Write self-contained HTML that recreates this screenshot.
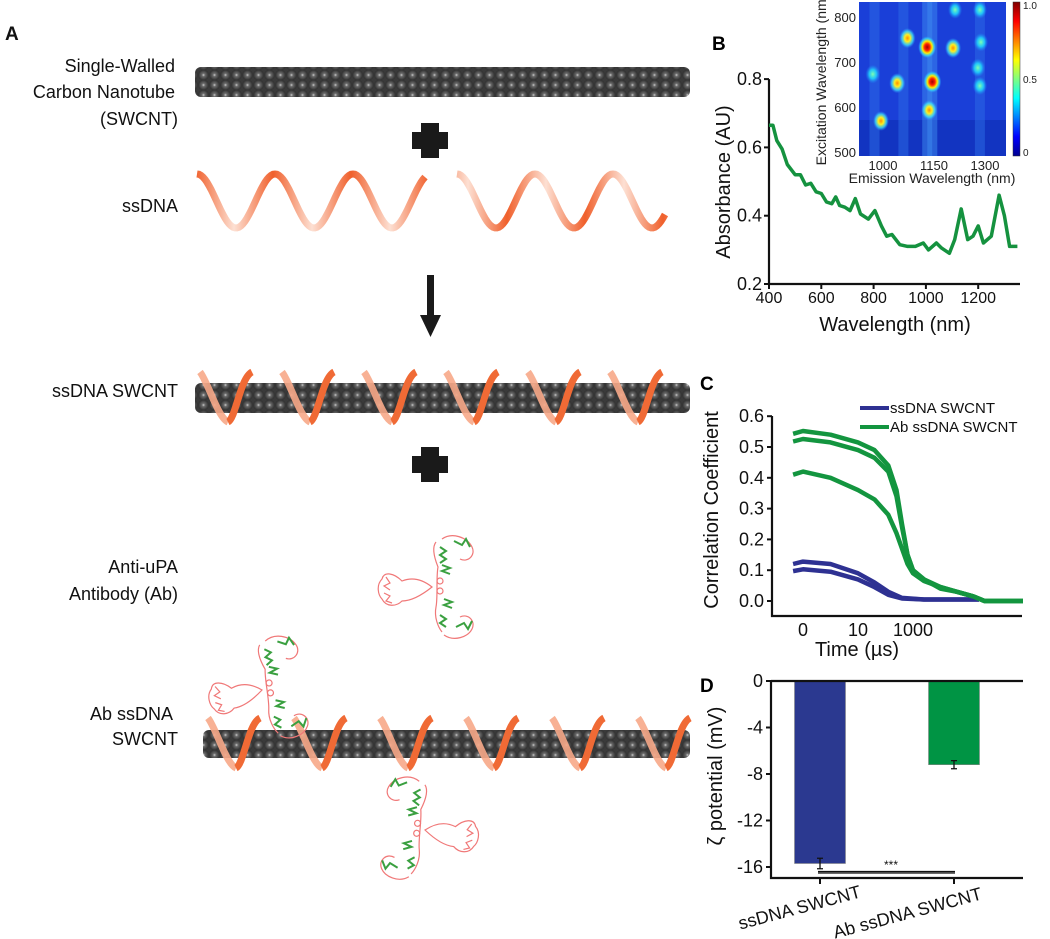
<!DOCTYPE html>
<html><head><meta charset="utf-8"><style>
html,body{margin:0;padding:0;background:#fff;width:1050px;height:939px;overflow:hidden}
svg{display:block;font-family:"Liberation Sans",Arial,sans-serif}
</style></head><body>
<svg id="fig" width="1050" height="939" viewBox="0 0 1050 939">
<defs>
<radialGradient id="atom" cx="50%" cy="50%" r="50%"><stop offset="0" stop-color="#cfcfcf"/><stop offset="0.3" stop-color="#6a6a6a"/><stop offset="1" stop-color="#2e2e2e"/></radialGradient>
<pattern id="tubePat" width="11" height="10" patternUnits="userSpaceOnUse"><rect width="11" height="10" fill="#3a3a3a"/><circle cx="5.5" cy="5" r="5.3" fill="url(#atom)"/></pattern>
<linearGradient id="dnaG" x1="0" x2="39" y1="0" y2="0" spreadMethod="reflect" gradientUnits="userSpaceOnUse"><stop offset="0" stop-color="#fde0d3"/><stop offset="1" stop-color="#f0602c"/></linearGradient>
<linearGradient id="jet" x1="0" x2="0" y1="1" y2="0"><stop offset="0" stop-color="#00008f"/><stop offset="0.125" stop-color="#0000ff"/><stop offset="0.375" stop-color="#00ffff"/><stop offset="0.625" stop-color="#ffff00"/><stop offset="0.875" stop-color="#ff0000"/><stop offset="1" stop-color="#800000"/></linearGradient>
<radialGradient id="spotR"><stop offset="0" stop-color="#a00000"/><stop offset="0.3" stop-color="#ff2000"/><stop offset="0.55" stop-color="#ffee00"/><stop offset="0.8" stop-color="#30e0ff" stop-opacity="0.7"/><stop offset="1" stop-color="#30a0ff" stop-opacity="0"/></radialGradient>
<radialGradient id="spotY"><stop offset="0" stop-color="#ff9000"/><stop offset="0.35" stop-color="#ffee20"/><stop offset="0.7" stop-color="#40f0ff" stop-opacity="0.7"/><stop offset="1" stop-color="#30a0ff" stop-opacity="0"/></radialGradient>
<radialGradient id="spotC"><stop offset="0" stop-color="#80ffb0"/><stop offset="0.5" stop-color="#20e0ff" stop-opacity="0.8"/><stop offset="1" stop-color="#2090ff" stop-opacity="0"/></radialGradient>
<clipPath id="hmClip"><rect x="859" y="2" width="147" height="154"/></clipPath>
<g id="antibody">
  <g fill="none" stroke="#f07878" stroke-width="1.2">
    <path d="M0,0 C-10,-8 -20,-10 -30,-6 C-38,-14 -48,-16 -50,-8 C-56,-2 -54,8 -50,12 C-46,20 -36,20 -30,14 C-20,14 -10,8 0,0Z"/>
    <path d="M-46,-10 l4,6 l-6,3 l6,4 M-48,6 l6,3 l-4,5 l6,2"/>
    <path d="M4,-45 C0,-40 2,-30 6,-20 C4,-10 6,10 4,20 C2,30 6,40 10,45"/>
    <path d="M10,-48 C20,-55 35,-50 40,-40 C44,-32 36,-24 28,-28 M12,48 C22,55 36,50 40,42 C44,34 36,26 28,30"/>
    <circle cx="8" cy="-6" r="3"/><circle cx="8" cy="4" r="3"/>
  </g>
  <g fill="none" stroke="#3aa040" stroke-width="2">
    <path d="M8,-40 l6,4 l-6,4 l6,4 l-6,4 M10,-22 l8,3 l-8,3 l8,3 M12,12 l8,3 l-8,3 l8,3 M8,28 l6,4 l-6,4 l6,4"/>
    <path d="M22,-46 l8,4 l4,-6 l4,8 M24,40 l8,-4 l4,6 l4,-8"/>
  </g>
</g>
</defs>

<g font-size="18" fill="#111">
  <text x="5" y="40" font-weight="bold" font-size="19">A</text>
  <g text-anchor="end">
    <text x="175" y="72">Single-Walled</text>
    <text x="175" y="98">Carbon Nanotube</text>
    <text x="178" y="125">(SWCNT)</text>
    <text x="178" y="212">ssDNA</text>
    <text x="178" y="397">ssDNA SWCNT</text>
    <text x="178" y="573">Anti-uPA</text>
    <text x="178" y="600">Antibody (Ab)</text>
    <text x="173" y="720">Ab ssDNA</text>
    <text x="178" y="745">SWCNT</text>
  </g>
  <rect x="195" y="67" width="495" height="30" rx="6" fill="url(#tubePat)"/>
  <path d="M421,129h18v9h9v17h-9v9h-18v-9h-9v-17h9z" fill="#1a1a1a" transform="translate(0,-6)"/>
  <path id="dna1" d="" fill="none" stroke="url(#dnaG)" stroke-width="7"/>
  <path id="dna2" d="" fill="none" stroke="url(#dnaG)" stroke-width="7"/>
  <path d="M427,275h7v40h7l-10.5,22l-10.5,-22h7z" fill="#1a1a1a"/>
  <g id="tube2grp">
    <rect x="195" y="383" width="495" height="30" rx="6" fill="url(#tubePat)"/>
  </g>
  <path d="M421,447h18v9h9v17h-9v9h-18v-9h-9v-17h9z" fill="#1a1a1a"/>
  <use href="#antibody" x="432" y="587"/>
  <g id="tube3grp">
    <rect x="203" y="730" width="487" height="28" rx="6" fill="url(#tubePat)"/>
  </g>
  <use href="#antibody" transform="translate(262,690) rotate(-8)"/>
  <use href="#antibody" transform="translate(425,830) rotate(185) scale(1,-1)"/>
</g>

<g>
  <text x="712" y="50" font-size="19" font-weight="bold">B</text>
  <g id="bAxes"></g>
  <path id="absLine" fill="none" stroke="#15923f" stroke-width="3.5" stroke-linejoin="round"/>
  <g>
    <g clip-path="url(#hmClip)">
      <rect x="859" y="2" width="147" height="154" fill="#1a3fd8"/>
      <rect x="859" y="120" width="147" height="36" fill="#1030b8" opacity="0.7"/>
      <g id="hmStripes"></g>
      <g id="hmSpots"></g>
    </g>
    <rect x="1013" y="2" width="7" height="154" fill="url(#jet)" stroke="#333" stroke-width="0.5"/>
    <g font-size="10" fill="#222">
      <text x="1023" y="9">1.0</text><text x="1023" y="83">0.5</text><text x="1023" y="156">0</text>
    </g>
    <g id="hmAxes" font-size="13" fill="#222"></g>
  </g>
</g>

<g>
  <text x="700" y="390" font-size="19" font-weight="bold">C</text>
  <g id="cAxes"></g>
  <g id="cLines"></g>
  <g font-size="15" fill="#111">
    <line x1="860" y1="408" x2="889" y2="408" stroke="#2e3192" stroke-width="4"/>
    <text x="890" y="413">ssDNA SWCNT</text>
    <line x1="860" y1="427" x2="889" y2="427" stroke="#13953f" stroke-width="4"/>
    <text x="890" y="432">Ab ssDNA SWCNT</text>
  </g>
</g>

<g>
  <text x="700" y="692" font-size="19" font-weight="bold">D</text>
  <g id="dChart"></g>
</g>
</svg>
<script>
// ---------- Panel B data ----------
const absWavelength=[400,415,430,450,470,500,520,540,560,580,600,620,640,655,670,690,710,730,750,780,805,830,850,870,900,930,960,990,1010,1040,1060,1090,1110,1135,1160,1180,1200,1220,1250,1280,1300,1320,1350];
const absValues=[0.665,0.665,0.62,0.595,0.55,0.52,0.52,0.49,0.495,0.47,0.465,0.44,0.435,0.455,0.43,0.425,0.415,0.45,0.405,0.39,0.415,0.37,0.34,0.345,0.315,0.31,0.31,0.32,0.30,0.32,0.305,0.29,0.33,0.42,0.33,0.34,0.37,0.32,0.34,0.46,0.40,0.31,0.31];
const bXTicks=[400,600,800,1000,1200];
const bYTicks=[0.2,0.4,0.6,0.8];
const bYTickLabels=["0.2","0.4","0.6","0.8"];
const hmEmTicks=[1000,1150,1300];
const hmExTicks=[500,600,700,800];
const hmSpotEm=[1072,1130,1206,970,1042,1145,1136,994,1288,1279,1285,1212,1285];
const hmSpotEx=[753,733,731,673,653,656,593,569,744,687,647,816,816];
const hmSpotLevel=[0.7,1.0,0.7,0.45,0.7,1.0,0.7,0.65,0.4,0.45,0.4,0.35,0.35];
// ---------- Panel C data ----------
const cTickLabels=["0","10","1000"];
const cTickPos=[0,1,2];
const cYTicks=[0,0.1,0.2,0.3,0.4,0.5,0.6];
const cPos=[-0.18,0,0.5,1.0,1.3,1.55,1.7,1.8,1.9,2.0,2.2,2.5,2.8,3.1,3.3,4.0];
const green1=[0.543,0.552,0.54,0.515,0.49,0.44,0.36,0.25,0.15,0.10,0.07,0.045,0.03,0.015,0.0,0.0];
const green2=[0.518,0.526,0.515,0.49,0.465,0.42,0.34,0.24,0.15,0.10,0.07,0.04,0.03,0.015,0.0,0.0];
const green3=[0.41,0.42,0.40,0.36,0.33,0.28,0.22,0.17,0.12,0.09,0.065,0.045,0.03,0.015,0.0,0.0];
const bPos=[-0.18,0,0.5,1.0,1.3,1.55,1.8,2.2,3.2];
const blue1=[0.12,0.128,0.12,0.09,0.06,0.03,0.01,0.005,0.005];
const blue2=[0.097,0.103,0.095,0.07,0.045,0.02,0.008,0.005,0.005];
// ---------- Panel D data ----------
const dCategories=["ssDNA SWCNT","Ab ssDNA SWCNT"];
const dValues=[-15.7,-7.2];
const dErrors=[0.45,0.35];
const dYTicks=[0,-4,-8,-12,-16];

const NS="http://www.w3.org/2000/svg";
function mk(tag,attrs,parent){const e=document.createElementNS(NS,tag);for(const k in attrs)e.setAttribute(k,attrs[k]);parent.appendChild(e);return e;}

(function(){
  function wave(x0,x1,yc,amp,per){let d="";for(let x=x0;x<=x1;x+=2){const y=yc-amp*Math.cos((x-x0)/per*2*Math.PI);d+=(x===x0?"M":"L")+x+","+y.toFixed(1);}return d;}
  document.getElementById('dna1').setAttribute('d',wave(197,425,201,27,78));
  document.getElementById('dna2').setAttribute('d',wave(457,665,201,27,78));
  function helix(grp,x0,x1,yTop,yBot,per){
    for(let x=x0;x<x1;x+=per){
      const p=mk('path',{d:`M${x},${yTop} C${x+8},${yTop+10} ${x+18},${yBot-4} ${x+28},${yBot}`,stroke:"#f7a988","stroke-width":7,fill:"none",opacity:0.9},grp);
      
      
      const q=mk('path',{d:`M${x+28},${yBot} C${x+36},${yBot-4} ${x+40},${yTop+6} ${x+52},${yTop}`,stroke:"#f06a35","stroke-width":7,fill:"none"},grp);
      
      
    }
  }
  helix(document.getElementById('tube2grp'),200,680,372,422,82);
  helix(document.getElementById('tube3grp'),208,680,718,768,86);
})();

(function(){
  const bx=v=>769+(v-400)*52.3/200;
  const by=v=>284-(v-0.2)*68.3/0.2;
  const ax=document.getElementById('bAxes');
  const yAxis=mk('path',{d:`M${bx(400)},${by(0.8)}V${by(0.2)}H1020`,stroke:"#111","stroke-width":2.2,fill:"none"},ax);
  
  
  bXTicks.forEach(t=>{
    mk('line',{x1:bx(t),x2:bx(t),y1:by(0.2),y2:by(0.2)+5,stroke:"#111","stroke-width":2},ax);
    const tx=mk('text',{x:bx(t),y:303,"text-anchor":"middle","font-size":16,fill:"#111"},ax);tx.textContent=t;
    
    
  });
  bYTicks.forEach((t,i)=>{
    mk('line',{x1:bx(400)-5,x2:bx(400),y1:by(t),y2:by(t),stroke:"#111","stroke-width":2},ax);
    const tx=mk('text',{x:762,y:by(t)+6,"text-anchor":"end","font-size":18,fill:"#111"},ax);tx.textContent=bYTickLabels[i];
    
    
  });
  const xt=mk('text',{x:895,y:331,"text-anchor":"middle","font-size":20,fill:"#111"},ax);xt.textContent="Wavelength (nm)";
  
  
  const yt=mk('text',{transform:"translate(730,182) rotate(-90)","text-anchor":"middle","font-size":20,fill:"#111"},ax);yt.textContent="Absorbance (AU)";
  
  
  let d="";absWavelength.forEach((w,i)=>{d+=(i?"L":"M")+bx(w).toFixed(1)+","+by(absValues[i]).toFixed(1);});
  document.getElementById('absLine').setAttribute('d',d);
  const hx=v=>883+(v-1000)*(51/150);
  const hy=v=>152-(v-500)*(45/100);
  const st=document.getElementById('hmStripes');
  [1130,1145,1285,975,1060].forEach((e,i)=>{const r=mk('rect',{x:hx(e)-5,y:2,width:10,height:154,fill:i<2?"#3d8cf0":"#2c6ce6",opacity:0.5},st);
    
    });
  const sp=document.getElementById('hmSpots');
  hmSpotEm.forEach((e,i)=>{
    const lv=hmSpotLevel[i];
    const g=lv>=0.9?"url(#spotR)":lv>=0.6?"url(#spotY)":"url(#spotC)";
    const c=mk('ellipse',{cx:hx(e),cy:hy(hmSpotEx[i]),rx:6+lv*3,ry:8+lv*3,fill:g},sp);
    
    
  });
  const ha=document.getElementById('hmAxes');
  hmEmTicks.forEach(t=>{const tx=mk('text',{x:hx(t),y:170,"text-anchor":"middle"},ha);tx.textContent=t;
    
    });
  hmExTicks.forEach(t=>{const tx=mk('text',{x:856,y:hy(t)+5,"text-anchor":"end"},ha);tx.textContent=t;
    
    });
  const ht=mk('text',{x:932,y:183,"text-anchor":"middle","font-size":14},ha);ht.textContent="Emission Wavelength (nm)";
  
  
  const hv=mk('text',{transform:"translate(826,80) rotate(-90)","text-anchor":"middle","font-size":14},ha);hv.textContent="Excitation Wavelength (nm)";
  
  
})();

(function(){
  const cx=p=>803+p*55;
  const cy=v=>601-v*308;
  const ax=document.getElementById('cAxes');
  const a=mk('path',{d:`M772,416V616H1022`,stroke:"#111","stroke-width":2.2,fill:"none"},ax);
  
  
  cYTicks.forEach(t=>{
    mk('line',{x1:767,x2:772,y1:cy(t),y2:cy(t),stroke:"#111","stroke-width":2},ax);
    const tx=mk('text',{x:764,y:cy(t)+6,"text-anchor":"end","font-size":18,fill:"#111"},ax);tx.textContent=t.toFixed(1);
    
    
  });
  cTickPos.forEach((p,i)=>{
    const tx=mk('text',{x:cx(p),y:636,"text-anchor":"middle","font-size":18,fill:"#111"},ax);tx.textContent=cTickLabels[i];
    
    
  });
  const xt=mk('text',{x:857,y:656,"text-anchor":"middle","font-size":20,fill:"#111"},ax);xt.textContent="Time (µs)";
  
  
  const yt=mk('text',{transform:"translate(718,510) rotate(-90)","text-anchor":"middle","font-size":20,fill:"#111"},ax);yt.textContent="Correlation Coefficient";
  
  
  const L=document.getElementById('cLines');
  function line(xs,ys,col,name){let d="";xs.forEach((p,i)=>{d+=(i?"L":"M")+cx(p).toFixed(1)+","+cy(ys[i]).toFixed(1);});
    const e=mk('path',{d:d,stroke:col,"stroke-width":4.5,fill:"none","stroke-linejoin":"round"},L);
    
    }
  line(bPos,blue1,"#2e3192","ssdna-curve-1");
  line(bPos,blue2,"#2e3192","ssdna-curve-2");
  line(cPos,green1,"#13953f","ab-curve-1");
  line(cPos,green2,"#13953f","ab-curve-2");
  line(cPos,green3,"#13953f","ab-curve-3");
})();

(function(){
  const y=v=>681+(-v)*(186/16);
  const g=document.getElementById('dChart');
  const barX=[820,954];const barW=51;const cols=["#2b3990","#009444"];
  const labelEnd=[[862,897],[983,899]];
  dValues.forEach((v,i)=>{
    const r=mk('rect',{x:barX[i]-barW/2,y:y(0),width:barW,height:y(v)-y(0),fill:cols[i],stroke:"#888","stroke-width":0.6},g);
    
    
    const e=mk('path',{d:`M${barX[i]},${y(v-dErrors[i])}V${y(v+dErrors[i])}M${barX[i]-3},${y(v-dErrors[i])}h6M${barX[i]-3},${y(v+dErrors[i])}h6`,stroke:"#111","stroke-width":1.3,fill:"none"},g);
    
    
  });
  const ax=mk('path',{d:`M771,681H1023M771,681V878H1023`,stroke:"#111","stroke-width":2.2,fill:"none"},g);
  
  
  dYTicks.forEach(t=>{
    mk('line',{x1:766,x2:771,y1:y(t),y2:y(t),stroke:"#111","stroke-width":2},g);
    const tx=mk('text',{x:763,y:y(t)+6,"text-anchor":"end","font-size":18,fill:"#111"},g);tx.textContent=t;
    
    
  });
  dCategories.forEach((c,i)=>{
    mk('line',{x1:barX[i],x2:barX[i],y1:878,y2:884,stroke:"#111","stroke-width":2},g);
    const tx=mk('text',{transform:`translate(${labelEnd[i][0]},${labelEnd[i][1]}) rotate(-15)`,"text-anchor":"end","font-size":18,fill:"#111"},g);tx.textContent=c;
    
    
  });
  const s=mk('path',{d:`M818,873H955M818,871.5H955`,stroke:"#111","stroke-width":1.2},g);
  
  
  const st=mk('text',{x:891,y:869,"text-anchor":"middle","font-size":12,fill:"#111"},g);st.textContent="***";
  
  
  const yt=mk('text',{transform:"translate(722,776) rotate(-90)","text-anchor":"middle","font-size":20,fill:"#111"},g);yt.textContent="ζ potential (mV)";
  
  
})();
</script>
</body></html>
